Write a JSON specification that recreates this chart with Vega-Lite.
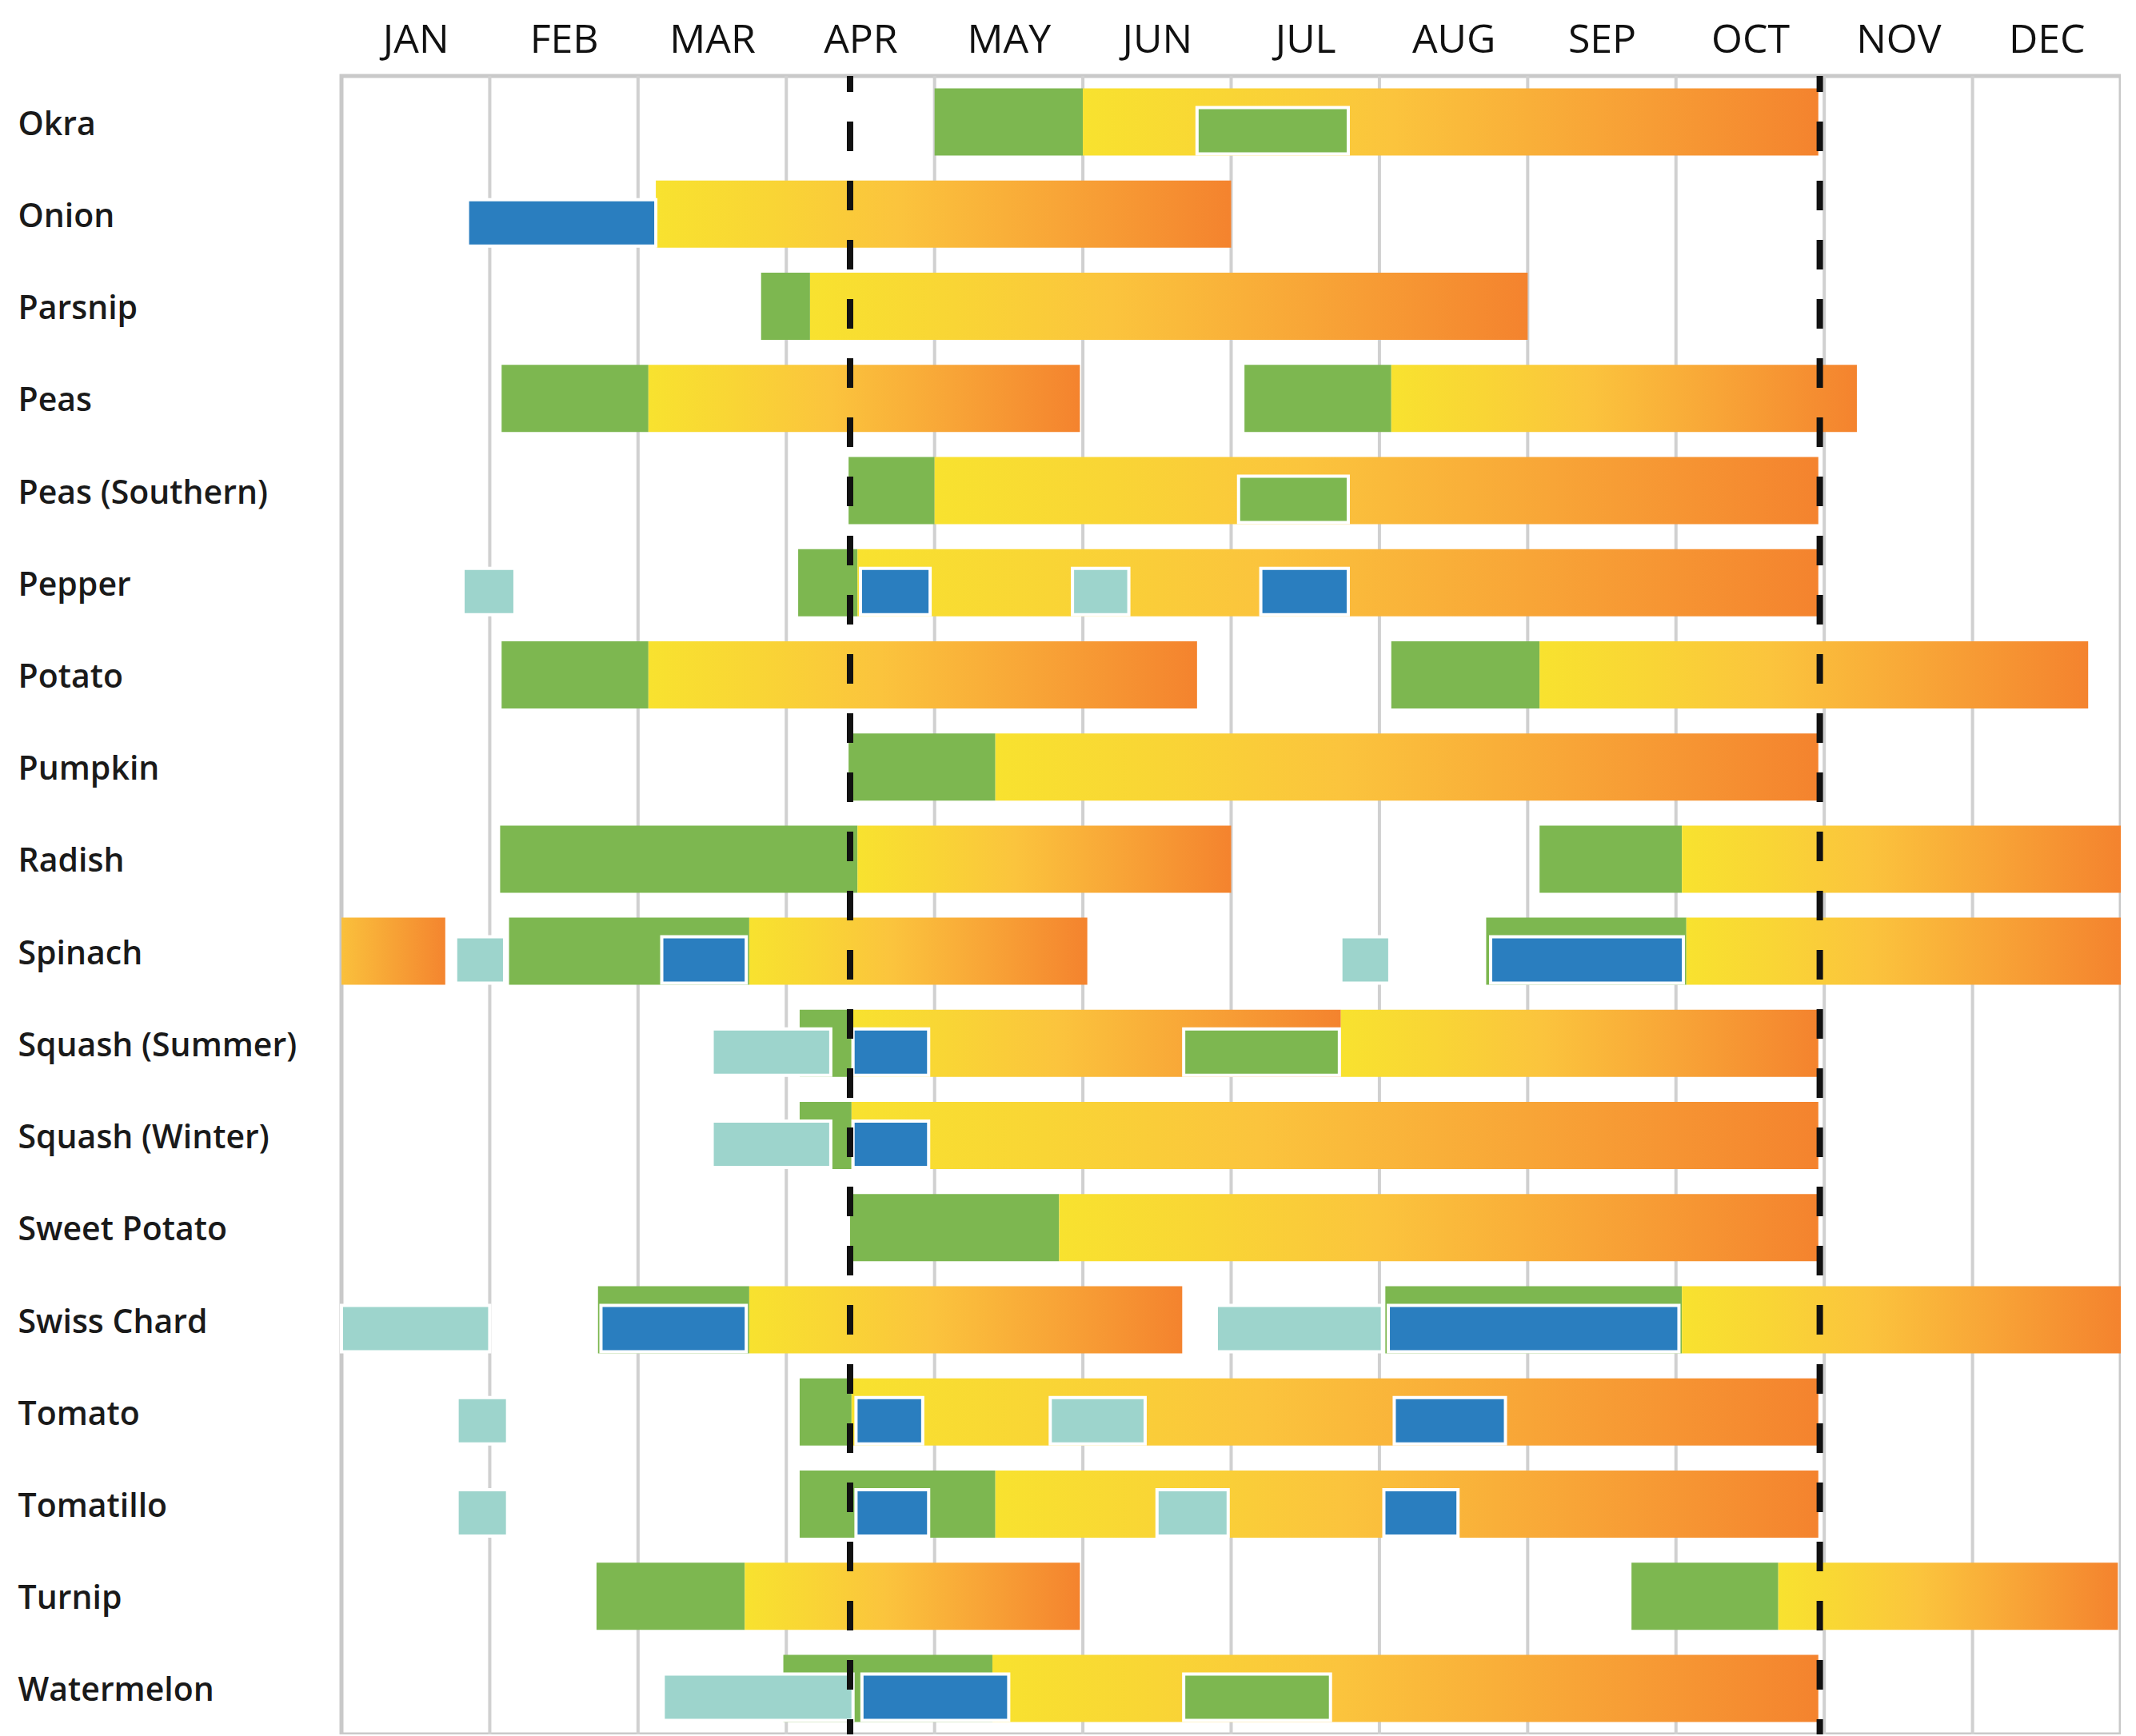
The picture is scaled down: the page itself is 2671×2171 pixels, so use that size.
{
  "$schema": "https://vega.github.io/schema/vega-lite/v6.json",
  "background": "white",
  "autosize": {"type": "none"},
  "padding": {"left": 427, "top": 95, "right": 0, "bottom": 0},
  "width": 2225,
  "height": 2074,
  "view": {"stroke": "#c9c9c9", "strokeWidth": 5},
  "datasets": {
    "months": [{"m": 1}, {"m": 2}, {"m": 3}, {"m": 4}, {"m": 5}, {"m": 6}, {"m": 7}, {"m": 8}, {"m": 9}, {"m": 10}, {"m": 11}],
    "frost": [{"d": 3.43}, {"d": 9.97}],
    "bars": [
      {"crop": "Okra", "kind": "sow", "start": 4.0, "end": 5.0},
      {"crop": "Okra", "kind": "harvest", "start": 5.0, "end": 9.96},
      {"crop": "Okra", "kind": "sow2", "start": 5.77, "end": 6.79},
      {"crop": "Onion", "kind": "transplant", "start": 0.85, "end": 2.12},
      {"crop": "Onion", "kind": "harvest", "start": 2.12, "end": 6.0},
      {"crop": "Parsnip", "kind": "sow", "start": 2.83, "end": 3.16},
      {"crop": "Parsnip", "kind": "harvest", "start": 3.16, "end": 8.0},
      {"crop": "Peas", "kind": "sow", "start": 1.08, "end": 2.07},
      {"crop": "Peas", "kind": "harvest", "start": 2.07, "end": 4.98},
      {"crop": "Peas", "kind": "sow", "start": 6.09, "end": 7.08},
      {"crop": "Peas", "kind": "harvest", "start": 7.08, "end": 10.22},
      {"crop": "Peas (Southern)", "kind": "sow", "start": 3.42, "end": 4.0},
      {"crop": "Peas (Southern)", "kind": "harvest", "start": 4.0, "end": 9.96},
      {"crop": "Peas (Southern)", "kind": "sow2", "start": 6.05, "end": 6.79},
      {"crop": "Pepper", "kind": "indoor", "start": 0.82, "end": 1.17},
      {"crop": "Pepper", "kind": "sow", "start": 3.08, "end": 3.48},
      {"crop": "Pepper", "kind": "harvest", "start": 3.48, "end": 9.96},
      {"crop": "Pepper", "kind": "transplant", "start": 3.5, "end": 3.97},
      {"crop": "Pepper", "kind": "indoor", "start": 4.93, "end": 5.31},
      {"crop": "Pepper", "kind": "transplant", "start": 6.2, "end": 6.79},
      {"crop": "Potato", "kind": "sow", "start": 1.08, "end": 2.07},
      {"crop": "Potato", "kind": "harvest", "start": 2.07, "end": 5.77},
      {"crop": "Potato", "kind": "sow", "start": 7.08, "end": 8.08},
      {"crop": "Potato", "kind": "harvest", "start": 8.08, "end": 11.78},
      {"crop": "Pumpkin", "kind": "sow", "start": 3.42, "end": 4.41},
      {"crop": "Pumpkin", "kind": "harvest", "start": 4.41, "end": 9.96},
      {"crop": "Radish", "kind": "sow", "start": 1.07, "end": 3.48},
      {"crop": "Radish", "kind": "harvest", "start": 3.48, "end": 6.0},
      {"crop": "Radish", "kind": "sow", "start": 8.08, "end": 9.04},
      {"crop": "Radish", "kind": "harvest", "start": 9.04, "end": 12.0},
      {"crop": "Spinach", "kind": "harvestLate", "start": 0.0, "end": 0.7},
      {"crop": "Spinach", "kind": "indoor", "start": 0.77, "end": 1.1},
      {"crop": "Spinach", "kind": "sow", "start": 1.13, "end": 2.75},
      {"crop": "Spinach", "kind": "transplant", "start": 2.16, "end": 2.73},
      {"crop": "Spinach", "kind": "harvest", "start": 2.75, "end": 5.03},
      {"crop": "Spinach", "kind": "indoor", "start": 6.74, "end": 7.07},
      {"crop": "Spinach", "kind": "sow", "start": 7.72, "end": 9.07},
      {"crop": "Spinach", "kind": "transplant", "start": 7.75, "end": 9.05},
      {"crop": "Spinach", "kind": "harvest", "start": 9.07, "end": 12.0},
      {"crop": "Squash (Summer)", "kind": "indoor", "start": 2.5, "end": 3.3},
      {"crop": "Squash (Summer)", "kind": "sow", "start": 3.09, "end": 3.44},
      {"crop": "Squash (Summer)", "kind": "transplant", "start": 3.45, "end": 3.96},
      {"crop": "Squash (Summer)", "kind": "harvest", "start": 3.44, "end": 6.74},
      {"crop": "Squash (Summer)", "kind": "sow2", "start": 5.68, "end": 6.73},
      {"crop": "Squash (Summer)", "kind": "harvest", "start": 6.74, "end": 9.96},
      {"crop": "Squash (Winter)", "kind": "indoor", "start": 2.5, "end": 3.3},
      {"crop": "Squash (Winter)", "kind": "sow", "start": 3.09, "end": 3.44},
      {"crop": "Squash (Winter)", "kind": "transplant", "start": 3.45, "end": 3.96},
      {"crop": "Squash (Winter)", "kind": "harvest", "start": 3.44, "end": 9.96},
      {"crop": "Sweet Potato", "kind": "sow", "start": 3.43, "end": 4.84},
      {"crop": "Sweet Potato", "kind": "harvest", "start": 4.84, "end": 9.96},
      {"crop": "Swiss Chard", "kind": "indoor", "start": 0.0, "end": 1.0},
      {"crop": "Swiss Chard", "kind": "sow", "start": 1.73, "end": 2.75},
      {"crop": "Swiss Chard", "kind": "transplant", "start": 1.75, "end": 2.73},
      {"crop": "Swiss Chard", "kind": "harvest", "start": 2.75, "end": 5.67},
      {"crop": "Swiss Chard", "kind": "indoor", "start": 5.9, "end": 7.02},
      {"crop": "Swiss Chard", "kind": "sow", "start": 7.04, "end": 9.04},
      {"crop": "Swiss Chard", "kind": "transplant", "start": 7.06, "end": 9.02},
      {"crop": "Swiss Chard", "kind": "harvest", "start": 9.04, "end": 12.0},
      {"crop": "Tomato", "kind": "indoor", "start": 0.78, "end": 1.12},
      {"crop": "Tomato", "kind": "sow", "start": 3.09, "end": 3.44},
      {"crop": "Tomato", "kind": "harvest", "start": 3.44, "end": 9.96},
      {"crop": "Tomato", "kind": "transplant", "start": 3.47, "end": 3.92},
      {"crop": "Tomato", "kind": "indoor", "start": 4.78, "end": 5.42},
      {"crop": "Tomato", "kind": "transplant", "start": 7.1, "end": 7.85},
      {"crop": "Tomatillo", "kind": "indoor", "start": 0.78, "end": 1.12},
      {"crop": "Tomatillo", "kind": "sow", "start": 3.09, "end": 4.41},
      {"crop": "Tomatillo", "kind": "transplant", "start": 3.47, "end": 3.96},
      {"crop": "Tomatillo", "kind": "harvest", "start": 4.41, "end": 9.96},
      {"crop": "Tomatillo", "kind": "indoor", "start": 5.5, "end": 5.98},
      {"crop": "Tomatillo", "kind": "transplant", "start": 7.03, "end": 7.53},
      {"crop": "Turnip", "kind": "sow", "start": 1.72, "end": 2.72},
      {"crop": "Turnip", "kind": "harvest", "start": 2.72, "end": 4.98},
      {"crop": "Turnip", "kind": "sow", "start": 8.7, "end": 9.69},
      {"crop": "Turnip", "kind": "harvest", "start": 9.69, "end": 11.98},
      {"crop": "Watermelon", "kind": "sow", "start": 2.98, "end": 4.39},
      {"crop": "Watermelon", "kind": "indoor", "start": 2.17, "end": 3.45},
      {"crop": "Watermelon", "kind": "transplant", "start": 3.51, "end": 4.5},
      {"crop": "Watermelon", "kind": "harvest", "start": 4.39, "end": 9.96},
      {"crop": "Watermelon", "kind": "sow2", "start": 5.68, "end": 6.67}
    ]
  },
  "layer": [
    {
      "data": {"name": "months"},
      "mark": {"type": "rule", "stroke": "#d0d0d0", "strokeWidth": 4},
      "encoding": {
        "x": {
          "field": "m", "type": "quantitative", "title": null,
          "scale": {"domain": [0, 12], "nice": false, "zero": false},
          "axis": {"orient": "top", "values": [0.5, 1.5, 2.5, 3.5, 4.5, 5.5, 6.5, 7.5, 8.5, 9.5, 10.5, 11.5], "labelExpr": "['JAN','FEB','MAR','APR','MAY','JUN','JUL','AUG','SEP','OCT','NOV','DEC'][floor(datum.value)]", "ticks": false, "domain": false, "grid": false, "title": null, "labelPadding": 30, "labelFontSize": 50, "labelFontWeight": "normal", "labelBaseline": "alphabetic", "labelAlign": "center", "labelFont": "Open Sans", "labelColor": "#111111"}
        }
      }
    },
    {
      "data": {"name": "bars"},
      "transform": [{"filter": "datum.kind === 'sow'"}],
      "mark": {"type": "bar", "height": 84, "fill": "#7DB750"},
      "encoding": {
        "x": {
          "field": "start", "type": "quantitative", "title": null,
          "axis": {"orient": "top", "values": [0.5, 1.5, 2.5, 3.5, 4.5, 5.5, 6.5, 7.5, 8.5, 9.5, 10.5, 11.5], "labelExpr": "['JAN','FEB','MAR','APR','MAY','JUN','JUL','AUG','SEP','OCT','NOV','DEC'][floor(datum.value)]", "ticks": false, "domain": false, "grid": false, "title": null, "labelPadding": 30, "labelFontSize": 50, "labelFontWeight": "normal", "labelBaseline": "alphabetic", "labelAlign": "center", "labelFont": "Open Sans", "labelColor": "#111111"}
        },
        "x2": {"field": "end"},
        "y": {
          "field": "crop", "type": "nominal", "title": null,
          "scale": {
            "domain": ["Okra", "Onion", "Parsnip", "Peas", "Peas (Southern)", "Pepper", "Potato", "Pumpkin", "Radish", "Spinach", "Squash (Summer)", "Squash (Winter)", "Sweet Potato", "Swiss Chard", "Tomato", "Tomatillo", "Turnip", "Watermelon"],
            "paddingInner": 0, "paddingOuter": 0
          },
          "axis": {"orient": "left", "ticks": false, "domain": false, "grid": false, "title": null, "labelAlign": "left", "labelPadding": 405, "labelOffset": 4, "labelFontSize": 41, "labelFontWeight": 600, "labelLimit": 600, "labelBaseline": "middle", "labelFont": "Open Sans", "labelColor": "#1a1a1a"}
        }
      }
    },
    {
      "data": {"name": "bars"},
      "transform": [{"filter": "datum.kind === 'harvest'"}],
      "mark": {
        "type": "bar", "height": 84,
        "fill": {
          "gradient": "linear", "x1": 0, "y1": 0, "x2": 1, "y2": 0,
          "stops": [
            {"offset": 0, "color": "#F8E22F"},
            {"offset": 0.2, "color": "#F9D535"},
            {"offset": 0.42, "color": "#FBC43D"},
            {"offset": 0.7, "color": "#F8A537"},
            {"offset": 1, "color": "#F4832E"}
          ]
        }
      },
      "encoding": {
        "x": {
          "field": "start", "type": "quantitative", "title": null,
          "axis": {"orient": "top", "values": [0.5, 1.5, 2.5, 3.5, 4.5, 5.5, 6.5, 7.5, 8.5, 9.5, 10.5, 11.5], "labelExpr": "['JAN','FEB','MAR','APR','MAY','JUN','JUL','AUG','SEP','OCT','NOV','DEC'][floor(datum.value)]", "ticks": false, "domain": false, "grid": false, "title": null, "labelPadding": 30, "labelFontSize": 50, "labelFontWeight": "normal", "labelBaseline": "alphabetic", "labelAlign": "center", "labelFont": "Open Sans", "labelColor": "#111111"}
        },
        "x2": {"field": "end"},
        "y": {
          "field": "crop", "type": "nominal", "title": null,
          "axis": {"orient": "left", "ticks": false, "domain": false, "grid": false, "title": null, "labelAlign": "left", "labelPadding": 405, "labelOffset": 4, "labelFontSize": 41, "labelFontWeight": 600, "labelLimit": 600, "labelBaseline": "middle", "labelFont": "Open Sans", "labelColor": "#1a1a1a"}
        }
      }
    },
    {
      "data": {"name": "bars"},
      "transform": [{"filter": "datum.kind === 'harvestLate'"}],
      "mark": {
        "type": "bar", "height": 84,
        "fill": {
          "gradient": "linear", "x1": 0, "y1": 0, "x2": 1, "y2": 0,
          "stops": [
            {"offset": 0, "color": "#FAC03C"},
            {"offset": 1, "color": "#F4852F"}
          ]
        }
      },
      "encoding": {
        "x": {
          "field": "start", "type": "quantitative", "title": null,
          "axis": {"orient": "top", "values": [0.5, 1.5, 2.5, 3.5, 4.5, 5.5, 6.5, 7.5, 8.5, 9.5, 10.5, 11.5], "labelExpr": "['JAN','FEB','MAR','APR','MAY','JUN','JUL','AUG','SEP','OCT','NOV','DEC'][floor(datum.value)]", "ticks": false, "domain": false, "grid": false, "title": null, "labelPadding": 30, "labelFontSize": 50, "labelFontWeight": "normal", "labelBaseline": "alphabetic", "labelAlign": "center", "labelFont": "Open Sans", "labelColor": "#111111"}
        },
        "x2": {"field": "end"},
        "y": {
          "field": "crop", "type": "nominal", "title": null,
          "axis": {"orient": "left", "ticks": false, "domain": false, "grid": false, "title": null, "labelAlign": "left", "labelPadding": 405, "labelOffset": 4, "labelFontSize": 41, "labelFontWeight": 600, "labelLimit": 600, "labelBaseline": "middle", "labelFont": "Open Sans", "labelColor": "#1a1a1a"}
        }
      }
    },
    {
      "data": {"name": "bars"},
      "transform": [{"filter": "datum.kind === 'indoor' || datum.kind === 'transplant' || datum.kind === 'sow2'"}],
      "mark": {"type": "bar", "height": 58, "yOffset": 11, "stroke": "white", "strokeWidth": 4},
      "encoding": {
        "x": {
          "field": "start", "type": "quantitative", "title": null,
          "axis": {"orient": "top", "values": [0.5, 1.5, 2.5, 3.5, 4.5, 5.5, 6.5, 7.5, 8.5, 9.5, 10.5, 11.5], "labelExpr": "['JAN','FEB','MAR','APR','MAY','JUN','JUL','AUG','SEP','OCT','NOV','DEC'][floor(datum.value)]", "ticks": false, "domain": false, "grid": false, "title": null, "labelPadding": 30, "labelFontSize": 50, "labelFontWeight": "normal", "labelBaseline": "alphabetic", "labelAlign": "center", "labelFont": "Open Sans", "labelColor": "#111111"}
        },
        "x2": {"field": "end"},
        "y": {
          "field": "crop", "type": "nominal", "title": null,
          "axis": {"orient": "left", "ticks": false, "domain": false, "grid": false, "title": null, "labelAlign": "left", "labelPadding": 405, "labelOffset": 4, "labelFontSize": 41, "labelFontWeight": 600, "labelLimit": 600, "labelBaseline": "middle", "labelFont": "Open Sans", "labelColor": "#1a1a1a"}
        },
        "color": {
          "field": "kind", "type": "nominal",
          "scale": {"domain": ["indoor", "transplant", "sow2"], "range": ["#9DD4CC", "#2A7EBF", "#7DB750"]},
          "legend": null
        }
      }
    },
    {
      "data": {"name": "frost"},
      "mark": {"type": "rule", "stroke": "#111111", "strokeWidth": 8, "strokeDash": [37, 37], "strokeDashOffset": 17},
      "encoding": {
        "x": {
          "field": "d", "type": "quantitative", "title": null,
          "axis": {"orient": "top", "values": [0.5, 1.5, 2.5, 3.5, 4.5, 5.5, 6.5, 7.5, 8.5, 9.5, 10.5, 11.5], "labelExpr": "['JAN','FEB','MAR','APR','MAY','JUN','JUL','AUG','SEP','OCT','NOV','DEC'][floor(datum.value)]", "ticks": false, "domain": false, "grid": false, "title": null, "labelPadding": 30, "labelFontSize": 50, "labelFontWeight": "normal", "labelBaseline": "alphabetic", "labelAlign": "center", "labelFont": "Open Sans", "labelColor": "#111111"}
        }
      }
    }
  ]
}
